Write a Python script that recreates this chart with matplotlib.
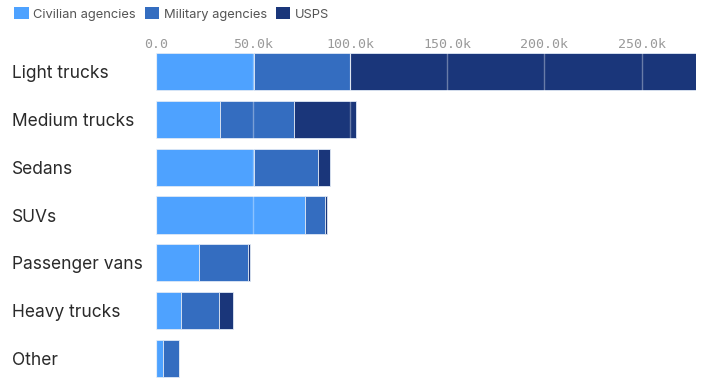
import matplotlib
matplotlib.use("Agg")
import matplotlib.pyplot as plt
from matplotlib.patches import Patch
import numpy as np

categories = ["Light trucks", "Medium trucks", "Sedans", "SUVs", "Passenger vans", "Heavy trucks", "Other"]
civilian = [50.6, 33.2, 50.4, 76.8, 22.3, 12.7, 3.4]
military = [49.4, 37.8, 32.9, 10.3, 25.3, 19.5, 8.2]
usps = [178.0, 32.2, 6.5, 1.0, 0.6, 7.2, 0.1]
series_names = ["Civilian agencies", "Military agencies", "USPS"]
colors = ["#4ea2ff", "#346dc0", "#1a367a"]
xticks = [0, 50, 100, 150, 200, 250]
xtick_labels = ["0.0", "50.0k", "100.0k", "150.0k", "200.0k", "250.0k"]

W, H = 701, 383
fig = plt.figure(figsize=(W / 100, H / 100), dpi=100)
ax = fig.add_axes([156 / W, 1 - 382 / H, 540 / W, 334 / H])

y = np.arange(len(categories))
left = np.zeros(len(categories))
for vals, c in zip([civilian, military, usps], colors):
    ax.barh(y, vals, left=left, height=0.78, color=c, edgecolor="#dfe8f5",
            linewidth=0.6, zorder=2)
    left += np.array(vals)

ax.set_xlim(0, 278)
ax.set_ylim(6.5, -0.5)
ax.set_xticks(xticks)
ax.set_xticklabels(xtick_labels, family="DejaVu Sans Mono", fontsize=9.5, color="#999999")
ax.xaxis.tick_top()
ax.tick_params(axis="x", length=0, pad=-2)
ax.grid(axis="x", color="#ffffff", alpha=0.35, linewidth=1.0, zorder=3)
ax.set_axisbelow(False)

ax.set_yticks(y)
ax.set_yticklabels(categories, family="Inter", fontsize=12.5, color="#2a2a2a")
ax.tick_params(axis="y", length=0, pad=(156 - 12) * 0.72)
for lab in ax.get_yticklabels():
    lab.set_horizontalalignment("left")

for s in ax.spines.values():
    s.set_visible(False)

handles = [Patch(facecolor=c, edgecolor="none") for c in colors]
leg = fig.legend(handles, series_names, loc="upper left", bbox_to_anchor=(0.004, 1.012),
                 ncol=3, frameon=False, handlelength=1.1, handleheight=1.1,
                 handletextpad=0.35, columnspacing=0.7, prop={"family": "Inter", "size": 9.3})
for t in leg.get_texts():
    t.set_color("#555555")

fig.savefig("out.png", dpi=100)
